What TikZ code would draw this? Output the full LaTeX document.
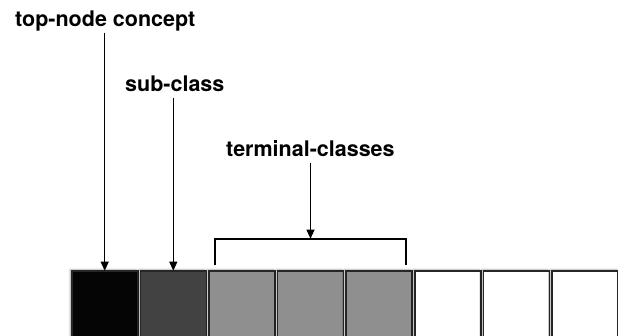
\documentclass[tikz,border=0pt]{standalone}
\usepackage{fontspec}
\setmainfont{TeX Gyre Heros}
\usetikzlibrary{arrows.meta, positioning, shadows.blur}

\begin{document}
\begin{tikzpicture}[x=1pt,y=1pt,node distance=2.6pt,
 label node/.style={anchor=base west,inner sep=1pt,text depth=4.5pt,
   font=\fontsize{21.5}{24}\selectfont\bfseries},
 class node/.style={rectangle,draw=black!85,line width=1.6pt,minimum width=66pt,
   minimum height=70pt,inner sep=0pt,outer sep=0pt,
   blur shadow={shadow xshift=-1.5pt,shadow yshift=1pt,shadow blur radius=2pt,shadow opacity=35}},
 pointer/.style={-{Triangle[width=8pt,length=9pt]},line width=1pt}]

  \useasboundingbox (0,0) rectangle (618,335);
  \clip (0,0) rectangle (618,335);

  % row of classes
  \node[class node,fill=black!98,anchor=north west] (c1) at (71.7,64.3) {};
  \foreach \i/\j/\c in {2/1/black!74, 3/2/black!44, 4/3/black!44, 5/4/black!44,
                        6/5/white, 7/6/white, 8/7/white} {
   \node[class node,fill=\c,right=of c\j] (c\i) {};}

  % labels
  \node[label node] (top) at (14,308) {top-node concept};
  \node[label node] (sub) at (124,243) {sub-class};
  \node[label node] (terminal) at (225,178) {terminal-classes};

  % bracket over the terminal classes
  \coordinate (bl) at ([shift={(6pt,6pt)}]c3.north west);
  \coordinate (br) at ([shift={(-6pt,6pt)}]c5.north east);
  \coordinate (bt) at ([yshift=32pt]c4.north);
  \draw[line width=1.6pt] (bl) |- (bt) -| (br);

  \draw[pointer] (top.south -| c1.north) -- (c1.north);
  \draw[pointer] (sub.south -| c2.north) -- (c2.north);
  \draw[pointer] (terminal.south -| bt) -- (bt);
\end{tikzpicture}
\end{document}
